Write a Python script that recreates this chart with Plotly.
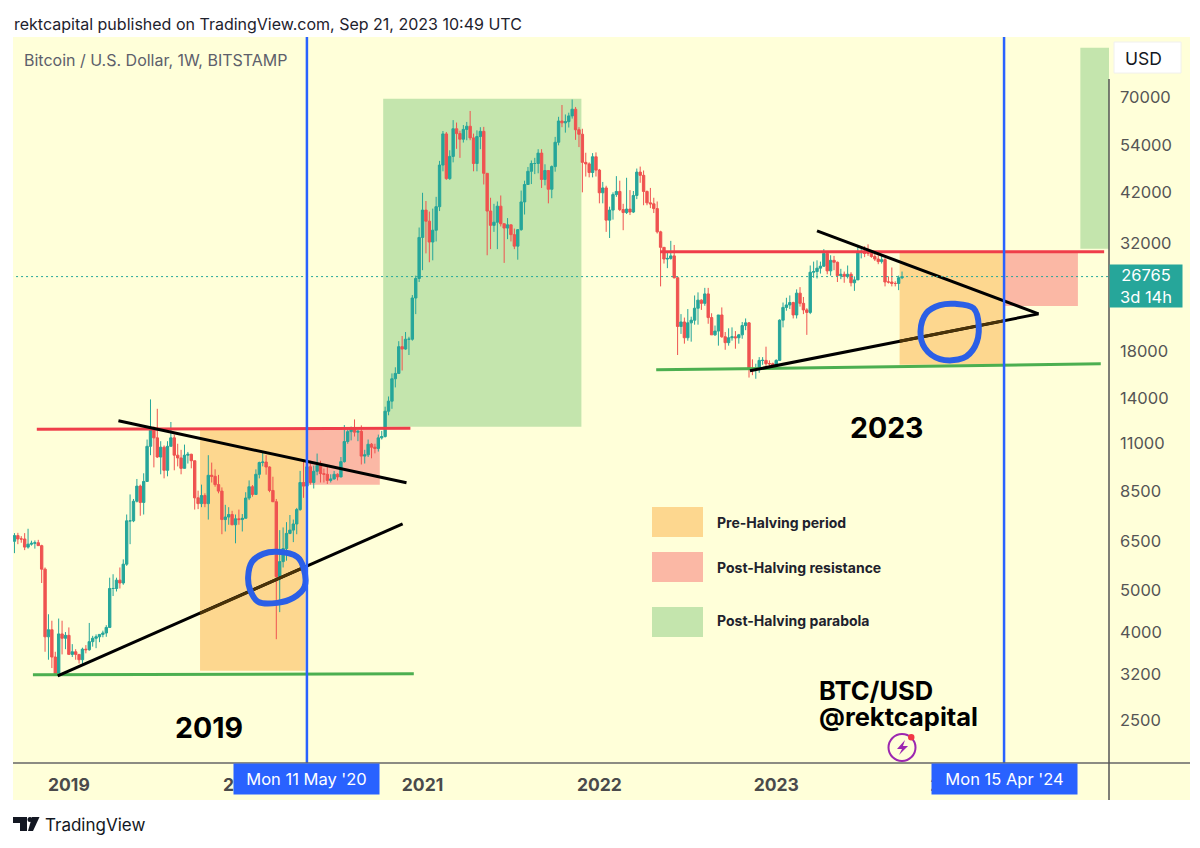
"""BTC/USD weekly halving chart, TradingView style."""

import math

import pandas as pd
import plotly.graph_objects as go

# weekly candles, one row per calendar year
week_open = [
    6300, 6500, 6700, 6580, 6580, 6300, 6400, 6430, 6450, 6350, 5600, 3900, 4050, 3500, 3200, 3960, 3870,
    3930, 3550, 3600, 3550, 3450, 3650, 3640, 3800, 3870, 3900, 3950, 3980, 4100, 5050, 5050, 5280, 5200, 5750, 7250, 7250, 8050, 8730, 8000, 8950, 10800, 11950, 11300, 10200, 10750, 9500, 10800, 11300, 10300, 10150, 9600, 10300, 10350, 10000, 8200, 7950, 8300, 7950, 9250, 9200, 8800, 8500, 7300, 7400, 7500, 7100, 7330, 7300,
    7350, 8190, 8700, 8350, 9300, 9900, 9930, 9670, 8530, 8030, 5380, 5830, 6250, 6780, 6900, 7130, 7700, 8900, 8730, 9680, 8900, 9450, 9750, 9330, 9300, 9000, 9070, 9300, 9170, 9950, 11080, 11680, 11900, 11650, 11700, 10250, 10320, 10920, 10750, 10680, 11300, 11380, 13030, 13750, 15500, 15950, 18400, 18170, 19150, 19150, 23870, 26500,
    33000, 38200, 36000, 32200, 34300, 38900, 48600, 57400, 45200, 50900, 59000, 57500, 55800, 58800, 59800, 56200, 49000, 56600, 58200, 46500, 38000, 35200, 35800, 39000, 35500, 34700, 35300, 33500, 31500, 34400, 39900, 43800, 47000, 49000, 49000, 51800, 45000, 47200, 42700, 48200, 54900, 61500, 60900, 61300, 63200, 65500, 58700, 57300, 49300, 48900, 46700, 50800,
    47300, 41900, 43000, 36200, 38200, 41500, 42200, 38300, 37700, 38400, 37800, 41300, 46800, 46000, 42200, 39700, 39500, 38500, 34000, 31300, 29400, 29500, 29900, 26600, 20500, 21000, 19300, 20900, 21200, 22600, 23600, 23200, 24400, 21500, 19600, 20000, 21800, 19400, 18800, 19300, 19400, 19300, 19600, 20600, 20900, 16300, 16300, 16400, 17100, 17100, 16800, 16800,
    16600, 17100, 21200, 22700, 23000, 23300, 21800, 24500, 23200, 22400, 22100, 27400, 27500, 28000, 28300, 30300, 27600, 29200, 28900, 26900, 27100, 26800, 27100, 25900, 26300, 30500, 30500, 30300, 30300, 29800, 29400, 29000, 29300, 26000, 26000, 25800, 25800, 26600,
]
week_high = [
    6570, 6790, 6800, 6680, 6790, 6950, 6520, 6530, 6550, 6380, 5650, 4400, 4250, 3600, 4300, 4250, 4000,
    4100, 3750, 3650, 3550, 3680, 3730, 4200, 3920, 3950, 3950, 4030, 4150, 5350, 5450, 5350, 5650, 5900, 7500, 8350, 8150, 9070, 8800, 9350, 11200, 13880, 12000, 13200, 11100, 10850, 11100, 12300, 11500, 10950, 10600, 10900, 10480, 10380, 10000, 8520, 8800, 8400, 10300, 9900, 9550, 9270, 8670, 7900, 7800, 7650, 7500, 7700, 7520,
    8450, 9000, 8780, 9550, 9950, 10500, 10300, 9700, 9180, 8150, 6900, 7000, 7200, 7480, 7300, 7770, 9470, 10050, 9960, 10000, 9740, 10390, 10000, 9590, 9780, 9300, 9470, 9350, 10200, 12100, 11900, 12000, 12470, 11800, 12080, 10600, 11200, 10990, 10950, 11500, 11730, 13350, 14100, 15950, 16480, 18950, 19480, 19900, 19400, 24250, 26900, 34800,
    41900, 40100, 37900, 38500, 41000, 49700, 58300, 58000, 52600, 61800, 61000, 58400, 60200, 61200, 64900, 57500, 58500, 59500, 59600, 46500, 40800, 39500, 40000, 41300, 35600, 36600, 35100, 34600, 34500, 42400, 44700, 48100, 49800, 50500, 52900, 52900, 48800, 47300, 48500, 56500, 62900, 67000, 63700, 64300, 69000, 66300, 59500, 59000, 51900, 49300, 51800, 52000,
    47600, 44400, 43500, 38900, 42000, 45800, 44700, 39500, 45400, 42500, 42300, 47700, 48200, 47200, 42400, 43000, 40800, 40000, 34200, 31300, 30400, 32400, 31700, 26800, 21900, 21500, 22500, 21600, 24200, 24600, 23700, 25200, 25200, 22000, 20600, 21800, 22700, 19900, 20300, 20400, 20000, 19700, 21000, 21400, 21000, 17200, 16800, 17400, 17400, 18400, 17100, 16900,
    17200, 21300, 23300, 23900, 24200, 23400, 25000, 25300, 24000, 22600, 28400, 29000, 29200, 29000, 31000, 30500, 30000, 29900, 29000, 27900, 27500, 28400, 27400, 26800, 31400, 31000, 31500, 31800, 30300, 30300, 30000, 30200, 29600, 26800, 28100, 26100, 26900, 27500,
]
week_low = [
    6200, 6100, 6400, 6450, 6200, 6250, 6350, 6250, 6350, 5200, 3600, 3450, 3300, 3200, 3200, 3550, 3650,
    3550, 3500, 3450, 3380, 3370, 3570, 3620, 3700, 3670, 3790, 3890, 3900, 4100, 4850, 4970, 5050, 5150, 5700, 6400, 7200, 8000, 7450, 7500, 8950, 10300, 9650, 10150, 9300, 9100, 9200, 10800, 9500, 9700, 9300, 9600, 9850, 9600, 7700, 7720, 7800, 7800, 7300, 8900, 8700, 8400, 6750, 6850, 7100, 7080, 6430, 7100, 6850,
    7350, 8100, 8250, 8350, 9100, 9700, 9280, 8450, 8400, 3850, 4450, 5650, 5860, 6750, 6470, 6750, 7650, 8200, 8200, 8800, 8620, 9250, 8900, 8900, 8830, 8900, 9040, 9000, 9150, 9900, 10950, 11150, 11380, 11100, 9800, 9850, 10200, 10130, 10400, 10500, 11200, 11320, 12750, 13200, 14800, 15900, 16200, 18100, 17600, 19000, 21900, 26000,
    27700, 30300, 28900, 29200, 32300, 38000, 47000, 44900, 44900, 49300, 53000, 50500, 54800, 55500, 55500, 47000, 47000, 52900, 43800, 30000, 31000, 34000, 31000, 35000, 28800, 32700, 32300, 31000, 29300, 34200, 37300, 43800, 43900, 46300, 46500, 43000, 43600, 39600, 40700, 46900, 54000, 59500, 57800, 59400, 62300, 55600, 53500, 42000, 45700, 45500, 45500, 45700,
    39600, 39600, 34000, 32900, 36300, 41000, 38000, 34300, 37400, 37200, 37600, 40500, 44200, 39200, 39200, 38600, 37600, 33700, 25400, 28700, 28000, 29300, 26500, 17600, 19700, 18700, 19000, 18900, 20700, 20700, 22400, 22900, 20800, 19600, 19500, 18500, 19300, 18100, 18500, 19000, 18200, 18700, 19200, 20100, 15600, 15800, 15500, 16000, 16700, 16600, 16300, 16300,
    16500, 17100, 20400, 22300, 22500, 21400, 21400, 22800, 21900, 19600, 21900, 26600, 26500, 27200, 28200, 27100, 26900, 27700, 26000, 26400, 25900, 26500, 25400, 24800, 26300, 29500, 29700, 29900, 29600, 29100, 28600, 28700, 25400, 25800, 25400, 25400, 24900, 26400,
]
week_close = [
    6500, 6700, 6580, 6580, 6300, 6400, 6430, 6450, 6350, 5600, 3900, 4050, 3500, 3200, 3960, 3870, 3930,
    3550, 3600, 3550, 3450, 3650, 3640, 3800, 3870, 3900, 3950, 3980, 4100, 5050, 5050, 5280, 5200, 5750, 7250, 7250, 8050, 8730, 8000, 8950, 10800, 11950, 11300, 10200, 10750, 9500, 10800, 11300, 10300, 10150, 9600, 10300, 10350, 10000, 8200, 7950, 8300, 7950, 9250, 9200, 8800, 8500, 7300, 7400, 7500, 7100, 7330, 7300, 7350,
    8190, 8700, 8350, 9300, 9900, 9930, 9670, 8530, 8030, 5380, 5830, 6250, 6780, 6900, 7130, 7700, 8900, 8730, 9680, 8900, 9450, 9750, 9330, 9300, 9000, 9070, 9300, 9170, 9950, 11080, 11680, 11900, 11650, 11700, 10250, 10320, 10920, 10750, 10680, 11300, 11380, 13030, 13750, 15500, 15950, 18400, 18170, 19150, 19150, 23870, 26500, 33000,
    38200, 36000, 32200, 34300, 38900, 48600, 57400, 45200, 50900, 59000, 57500, 55800, 58800, 59800, 56200, 49000, 56600, 58200, 46500, 38000, 35200, 35800, 39000, 35500, 34700, 35300, 33500, 31500, 34400, 39900, 43800, 47000, 49000, 49000, 51800, 45000, 47200, 42700, 48200, 54900, 61500, 60900, 61300, 63200, 65500, 58700, 57300, 49300, 48900, 46700, 50800, 47300,
    41900, 43000, 36200, 38200, 41500, 42200, 38300, 37700, 38400, 37800, 41300, 46800, 46000, 42200, 39700, 39500, 38500, 34000, 31300, 29400, 29500, 29900, 26600, 20500, 21000, 19300, 20900, 21200, 22600, 23600, 23200, 24400, 21500, 19600, 20000, 21800, 19400, 18800, 19300, 19400, 19300, 19600, 20600, 20900, 16300, 16300, 16400, 17100, 17100, 16800, 16800, 16600,
    17100, 21200, 22700, 23000, 23300, 21800, 24500, 23200, 22400, 22100, 27400, 27500, 28000, 28300, 30300, 27600, 29200, 28900, 26900, 27100, 26800, 27100, 25900, 26300, 30500, 30500, 30300, 30300, 29800, 29400, 29000, 29300, 26000, 26000, 25800, 25800, 26600, 26765,
]
assert len(week_open) == len(week_high) == len(week_low) == len(week_close)
week_dates = pd.date_range("2018-09-10", periods=len(week_close), freq="7D")

price_ticks = [70000, 54000, 42000, 32000, 18000, 14000, 11000, 8500, 6500, 5000, 4000, 3200, 2500]
year_ticks = ["2019-01-07", "2020-01-06", "2021-01-04", "2022-01-03", "2023-01-02", "2024-01-01"]
year_labels = ["2019", "2020", "2021", "2022", "2023", "2024"]
halving_dates = ["2020-05-11", "2024-04-15"]
halving_labels = ["Mon 11 May '20", "Mon 15 Apr '24"]

# drawings on the chart: (date0, date1), (price0, price1)
red_lines = [(("2018-11-02", "2020-12-10"), (11830, 11900)), (("2022-05-08", "2024-11-07"), (30550, 30550))]
green_lines = [(("2018-10-25", "2020-12-17"), (3183, 3200)), (("2022-04-30", "2024-10-31"), (16255, 16790))]
black_lines = [
    (("2019-04-19", "2020-12-02"), (12380, 8885)),
    (("2018-12-15", "2020-11-24"), (3166, 7133)),
    (("2023-03-27", "2024-06-25"), (34180, 21930)),
    (("2022-11-09", "2024-06-25"), (16180, 21930)),
]
# the rising lines where they run behind the orange boxes
brown_lines = [(("2019-10-04", "2020-05-06"), (4423, 5662)), (("2023-09-13", "2024-04-13"), (18940, 21120))]
orange_boxes = [(("2019-10-04", "2020-05-08"), (3251, 11790)), (("2023-09-13", "2024-04-13"), (16700, 30550))]
pink_boxes = [(("2020-05-08", "2020-10-08"), (8790, 11790)), (("2024-04-13", "2024-09-14"), (22880, 30550))]
green_boxes = [(("2020-10-15", "2021-11-27"), (11985, 69260)), (("2024-09-19", "2024-11-17"), (31050, 90970))]

circle_2020_dates = ["2020-03-11", "2020-04-21", "2020-05-04", "2020-05-06", "2020-04-13", "2020-03-11", "2020-02-01", "2020-01-15", "2020-01-11", "2020-01-19", "2020-02-11", "2020-03-11"]
circle_2020_prices = [6142, 5980, 5640, 5093, 4802, 4676, 4701, 5013, 5375, 5825, 6077, 6142]
circle_2024_dates = ["2024-01-05", "2024-02-12", "2024-02-23", "2024-02-15", "2024-01-22", "2023-12-05", "2023-11-04", "2023-10-26", "2023-11-07", "2023-12-05", "2024-01-05"]
circle_2024_prices = [23135, 22610, 20500, 18415, 17310, 17220, 18260, 19950, 22010, 22970, 23135]

legend_labels = ["Pre-Halving period", "Post-Halving resistance", "Post-Halving parabola"]

BG = "#ffffd9"
UP = "#26a69a"
DOWN = "#ef5350"
ORANGE = "#fdd78f"
PINK = "#fbb8a5"
GREEN = "#c4e5ad"
BLUE = "#2962ff"
MARKER = "#2b5fe6"
FONT = "Inter"


def px_x(x):
    return (x - 13) / 1096


def px_y(y):
    return (763 - y) / 726


def text(x, y, label, size, color="#000000", bold=False, anchor="left"):
    # annotations carry about 2px of padding on the left
    shift = 2 if anchor == "left" else 0
    return dict(
        xref="paper", yref="paper", x=px_x(x - shift), y=px_y(y), text=f"<b>{label}</b>" if bold else label,
        showarrow=False, xanchor=anchor, yanchor="middle",
        font=dict(family=FONT, size=size, color=color),
    )


def paper_rect(x0, y0, x1, y1, color, layer="above", line="rgba(0,0,0,0)"):
    return dict(
        type="rect", xref="paper", yref="paper", x0=px_x(x0), x1=px_x(x1), y0=px_y(y0), y1=px_y(y1),
        fillcolor=color, line=dict(color=line, width=1), layer=layer,
    )


def paper_line(x0, y0, x1, y1, color, width=1):
    return dict(
        type="line", xref="paper", yref="paper", x0=px_x(x0), x1=px_x(x1), y0=px_y(y0), y1=px_y(y1),
        line=dict(color=color, width=width), layer="above",
    )


def paper_path(points, color):
    d = "M " + " L ".join(f"{px_x(x):.5f},{px_y(y):.5f}" for x, y in points) + " Z"
    return dict(type="path", xref="paper", yref="paper", path=d, fillcolor=color, line=dict(width=0), layer="above")


def box(dates, prices, color):
    return dict(
        type="rect", xref="x", yref="y", x0=dates[0], x1=dates[1], y0=prices[0], y1=prices[1],
        fillcolor=color, line=dict(width=0), layer="below",
    )


fig = go.Figure()

fig.add_trace(go.Candlestick(
    x=week_dates, open=week_open, high=week_high, low=week_low, close=week_close,
    increasing=dict(line=dict(color=UP, width=1), fillcolor=UP),
    decreasing=dict(line=dict(color=DOWN, width=1), fillcolor=DOWN),
    showlegend=False, hoverinfo="skip",
))


def add_lines(segments, color, width):
    for dates, prices in segments:
        fig.add_trace(go.Scatter(
            x=list(dates), y=list(prices), mode="lines", line=dict(color=color, width=width),
            showlegend=False, hoverinfo="skip",
        ))


add_lines(red_lines, "#ef3e4a", 3)
add_lines(green_lines, "#4caf50", 3)
add_lines(black_lines, "#000000", 3)
add_lines(brown_lines, "#4a3208", 3)

# last price, dotted across the chart
fig.add_trace(go.Scatter(
    x=[week_dates[0], "2024-11-17"], y=[week_close[-1], week_close[-1]], mode="lines",
    line=dict(color=UP, width=1, dash="2px,3px"), showlegend=False, hoverinfo="skip",
))

for dates, prices in [(circle_2020_dates, circle_2020_prices), (circle_2024_dates, circle_2024_prices)]:
    fig.add_trace(go.Scatter(
        x=dates, y=prices, mode="lines", line=dict(color=MARKER, width=6, shape="spline", smoothing=1),
        showlegend=False, hoverinfo="skip",
    ))

shapes = [paper_rect(13, 37, 1190, 800, BG, layer="below")]
shapes += [box(d, p, ORANGE) for d, p in orange_boxes]
shapes += [box(d, p, PINK) for d, p in pink_boxes]
shapes += [box(d, p, GREEN) for d, p in green_boxes]

for date in halving_dates:
    shapes.append(dict(
        type="line", xref="x", yref="paper", x0=date, x1=date, y0=0, y1=1,
        line=dict(color=BLUE, width=2.5), layer="above",
    ))

# axis frame
shapes.append(paper_line(13, 763, 1190, 763, "#666666", 1.5))
shapes.append(paper_line(1109, 79, 1109, 800, "#555555", 1.5))

# USD button
shapes.append(paper_rect(1114, 42, 1181, 73, "#ffffff", line="#f0f0ee"))

# legend swatches
shapes.append(paper_rect(652, 507, 703, 537, ORANGE, layer="below"))
shapes.append(paper_rect(652, 552, 703, 582, PINK, layer="below"))
shapes.append(paper_rect(652, 607, 703, 637, GREEN, layer="below"))

# TradingView logo
shapes.append(paper_path([(13, 817), (27, 817), (27, 831), (20, 831), (20, 823), (13, 823)], "#131722"))
shapes.append(paper_path([(33, 831), (39.5, 817), (32, 817), (28, 831)], "#131722"))
shapes.append(dict(
    type="circle", xref="paper", yref="paper", x0=px_x(27.5), x1=px_x(32.5), y0=px_y(822), y1=px_y(817),
    fillcolor="#131722", line=dict(width=0), layer="above",
))

# purple badge under the signature
shapes.append(dict(
    type="circle", xref="paper", yref="paper", x0=px_x(888.5), x1=px_x(915.5), y0=px_y(761), y1=px_y(734),
    fillcolor="rgba(0,0,0,0)", line=dict(color="#9c27b0", width=2), layer="above",
))
shapes.append(paper_path([(905, 740), (897, 749), (902, 749), (899, 755), (908, 746), (903, 746)], "#9c27b0"))
shapes.append(dict(
    type="circle", xref="paper", yref="paper", x0=px_x(908), x1=px_x(914.5), y0=px_y(740.5), y1=px_y(734),
    fillcolor="#f23645", line=dict(width=0), layer="above",
))

annotations = [
    text(14, 24, "rektcapital published on TradingView.com, Sep 21, 2023 10:49 UTC", 16, "#1e222d"),
    text(24, 60, "Bitcoin / U.S. Dollar, 1W, BITSTAMP", 16, "#5d606b"),
    text(1143, 58, "USD", 17.5, "#131722", anchor="center"),
    text(45, 825, "TradingView", 17, "#131722"),
    text(175, 727, "2019", 28.5, bold=True),
    text(850, 428, "2023", 28.5, bold=True),
    text(819, 690, "BTC/USD", 25.5, bold=True),
    text(819, 716, "@rektcapital", 25.5, bold=True),
]
for label, y in zip(legend_labels, [522, 567, 620]):
    annotations.append(text(717, y, label, 14, "#1e222d", bold=True))

for date, label in zip(halving_dates, halving_labels):
    annotations.append(dict(
        xref="x", yref="paper", x=date, y=px_y(763), text=label, showarrow=False,
        xanchor="center", yanchor="top", width=145, height=30, bgcolor=BLUE, borderpad=0,
        font=dict(family=FONT, size=16.5, color="#ffffff"),
    ))

# last price tag on the scale
annotations.append(dict(
    xref="paper", yref="y", x=px_x(1109), y=math.log10(week_close[-1]), yshift=-9,
    text=f"{week_close[-1]}<br>3d 14h", showarrow=False, xanchor="left", yanchor="middle",
    width=72, height=42, bgcolor=UP, borderpad=0, align="center",
    font=dict(family=FONT, size=16.5, color="#ffffff"),
))

# the page adds an 8px body margin, so the figure starts at (8, 8)
fig.update_layout(
    width=1192, height=840, autosize=False,
    margin=dict(l=5, r=91, t=29, b=85),
    paper_bgcolor="#ffffff", plot_bgcolor=BG,
    showlegend=False, boxgap=0.3, boxgroupgap=0,
    shapes=shapes, annotations=annotations,
    xaxis=dict(
        type="date", range=["2018-09-14", "2024-11-17"], rangeslider=dict(visible=False),
        tickmode="array", tickvals=year_ticks, ticktext=year_labels,
        showgrid=False, zeroline=False, showline=False, ticks="",
        tickangle=0, ticklabelstandoff=9,
        tickfont=dict(family=FONT, size=17.5, color="#4a4a4a", weight="bold"),
    ),
    yaxis=dict(
        type="log", range=[3.298, 4.984], side="right",
        tickmode="array", tickvals=price_ticks, ticktext=[str(p) for p in price_ticks],
        showgrid=False, zeroline=False, showline=False, ticks="",
        ticklabelstandoff=10,
        tickfont=dict(family=FONT, size=16.5, color="#555555"),
    ),
)

fig.write_html("out.html")
